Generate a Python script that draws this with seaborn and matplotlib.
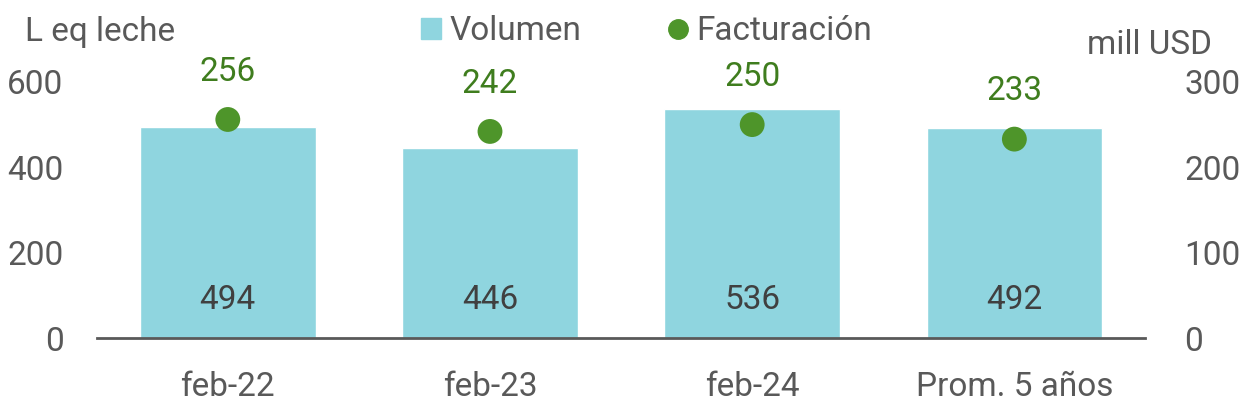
import seaborn as sns
from matplotlib import pyplot as plt
import matplotlib.lines as mlines
import matplotlib.patches as mpatches
import pandas as pd

# data
periodos = ['feb-22', 'feb-23', 'feb-24', 'Prom. 5 años']
volumen = [494, 446, 536, 492]
facturacion = [256, 242, 250, 233]

df = pd.DataFrame({'periodo': periodos, 'volumen': volumen, 'facturacion': facturacion})

sns.set_style('white')
plt.rcParams['font.family'] = ['Roboto', 'DejaVu Sans']

gris = '#595959'
celeste = '#8fd5df'
verde = '#4e952a'
verde_txt = '#3f7d1e'
fs = 24

fig = plt.figure(figsize=(12.56, 4.2), dpi=100)
ax = fig.add_axes([0.077, 0.195, 0.835, 0.61])

sns.barplot(data=df, x='periodo', y='volumen', color=celeste, width=0.67,
            saturation=1, ax=ax)
ax.set_ylim(0, 600)
ax.set_xlim(-0.5, 3.5)
ax.set_yticks([0, 200, 400, 600])
ax.set_xlabel('')
ax.set_ylabel('')
for i, v in enumerate(volumen):
    ax.text(i, 90, str(v), ha='center', va='center', fontsize=fs, color='#404040')

ax2 = ax.twinx()
sns.scatterplot(data=df, x='periodo', y='facturacion', color=verde, s=320,
                edgecolor='none', ax=ax2, zorder=5)
ax2.set_ylim(0, 300)
ax2.set_yticks([0, 100, 200, 300])
ax2.set_ylabel('')
for i, v in enumerate(facturacion):
    ax2.text(i, v + 56, str(v), ha='center', va='center', fontsize=fs, color=verde_txt)

for a in (ax, ax2):
    for s in ['top', 'left', 'right']:
        a.spines[s].set_visible(False)
    a.spines['bottom'].set_color(gris)
    a.spines['bottom'].set_linewidth(2)
    a.tick_params(length=0, labelsize=fs, colors=gris)
ax.tick_params(axis='y', pad=24)
ax2.tick_params(axis='y', pad=28)
ax.tick_params(axis='x', pad=24)
ax2.spines['bottom'].set_visible(False)

fig.text(0.02, 0.925, 'L eq leche', fontsize=fs, color=gris, va='center')
fig.text(0.965, 0.893, 'mill USD', fontsize=fs, color=gris, va='center', ha='right')

h1 = mpatches.Patch(color=celeste, label='Volumen')
h2 = mlines.Line2D([], [], color=verde, marker='o', linestyle='none',
                   markersize=14, label='Facturación')
leg = fig.legend(handles=[h1, h2], loc='center', bbox_to_anchor=(0.515, 0.925), ncol=2,
                 frameon=False, fontsize=fs, handlelength=0.6, handleheight=0.6,
                 handletextpad=0.25, columnspacing=2.6)
for t in leg.get_texts():
    t.set_color(gris)

fig.savefig('out.png', dpi=100)
